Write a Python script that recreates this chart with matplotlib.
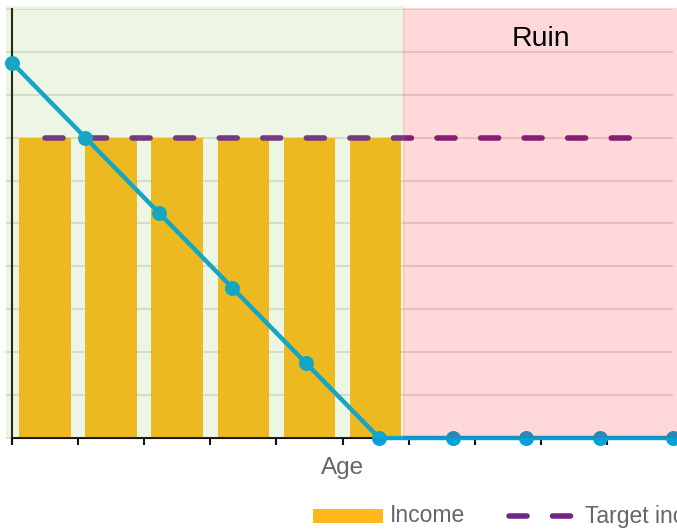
import matplotlib
matplotlib.use("Agg")
import matplotlib.pyplot as plt
import matplotlib.transforms as mtransforms
from matplotlib.patches import Rectangle
from matplotlib.lines import Line2D

plt.rcParams["font.family"] = ["Liberation Sans", "DejaVu Sans"]
plt.rcParams["lines.scale_dashes"] = False

# ---- data -------------------------------------------------------------
periods = list(range(10))                       # yearly buckets on the bar axis
income = [7, 7, 7, 7, 7, 7]                     # income received while savings last
target_income = [7, 7, 7, 7, 7, 7, 7, 7, 7, 7]  # desired yearly income
portfolio = [8.75, 7.0, 5.25, 3.5, 1.75, 0, 0, 0, 0, 0]  # remaining savings
y_max = 10
ruin_start = 5.42    # bar-axis position where savings run out
safe_end = 5.45

# ---- style -------------------------------------------------------------
W, H = 677, 531
BAR = "#FEB81B"
TARGET = "#73238A"
PORT = "#02A1D8"
GRID = "#d9d9d9"
AXIS = "#111111"
TEXT = "#666666"

fig = plt.figure(figsize=(W / 100, H / 100), dpi=100)
left, right, top, bottom = 12, 673, 9, 438
ax = fig.add_axes([left / W, 1 - bottom / H, (right - left) / W, (bottom - top) / H])

ax.set_xlim(-0.5, len(periods) - 0.5)
ax.set_ylim(0, y_max)

# bars and target line share the category axis
ax.bar(periods[:len(income)], income, width=0.78, color=BAR, zorder=2)
ax.plot(periods, target_income, color=TARGET, lw=4.0, dashes=(12.96, 18.4),
        dash_capstyle="round", zorder=3, clip_on=False)

# horizontal grid, y ticks drawn in grid colour
ax.set_yticks(range(0, y_max + 1))
ax.yaxis.grid(True, color=GRID, lw=1.1, zorder=0)
ax.tick_params(axis="y", length=4.3, width=1.1, color=GRID, labelleft=False)
ax.set_xticks([p - 0.5 for p in periods] + [len(periods) - 0.5])
ax.tick_params(axis="x", length=5.2, width=1.5, color=AXIS, labelbottom=False)
ax.set_axisbelow(True)
for s in ("top", "right"):
    ax.spines[s].set_visible(False)
for s in ("left", "bottom"):
    ax.spines[s].set_color(AXIS)
    ax.spines[s].set_linewidth(1.5)

# savings line on its own edge-to-edge axis
ax2 = ax.twiny()
ax2.set_xlim(0, len(portfolio) - 1)
ax2.set_ylim(0, y_max)
ax2.axis("off")
ax2.plot(range(len(portfolio)), portfolio, color=PORT, lw=3.2, marker="o",
         markersize=10.8, markeredgewidth=0, zorder=3, clip_on=False)

# translucent zones laid over the plot
blend = mtransforms.blended_transform_factory(ax.transData, ax.transAxes)
plot_h = bottom - top
pad_x = 6 / 66.1
ax2.add_patch(Rectangle((-0.5 - pad_x, 0), safe_end + 0.5 + pad_x, 1 + 3 / plot_h,
                        transform=blend, facecolor=(139 / 255, 195 / 255, 74 / 255, 0.15),
                        edgecolor="none", zorder=10, clip_on=False))
ax2.add_patch(Rectangle((ruin_start, 0), 9.5 + pad_x - ruin_start, 1 + 1 / plot_h,
                        transform=blend, facecolor=(1, 0, 0, 0.15),
                        edgecolor="none", zorder=10, clip_on=False))
ax2.text((ruin_start + 9.5 + pad_x) / 2, (bottom - 45.7) / plot_h,
         "Ruin", transform=blend, ha="center", va="baseline",
         fontsize=20.5, color="black", zorder=11)

# axis title
fig.text((left + right) / 2 / W, 1 - 474 / H, "Age", ha="center", va="baseline",
         fontsize=17.5, color=TEXT)

# legend
fig.add_artist(Rectangle((313 / W, 1 - 523 / H), 70 / W, 14 / H, facecolor=BAR,
                         edgecolor="none", transform=fig.transFigure))
fig.text(390 / W, 1 - 516 / H, "Income", ha="left", va="center", fontsize=16.5, color=TEXT)
fig.add_artist(Line2D([509 / W, 575 / W], [1 - 516 / H, 1 - 516 / H], color=TARGET, lw=4.0,
                      dashes=(12.96, 18.4), dash_capstyle="round", transform=fig.transFigure))
fig.text(585 / W, 1 - 516 / H, "Target income", ha="left", va="center", fontsize=16.5, color=TEXT)

fig.savefig("out.png", dpi=100)
